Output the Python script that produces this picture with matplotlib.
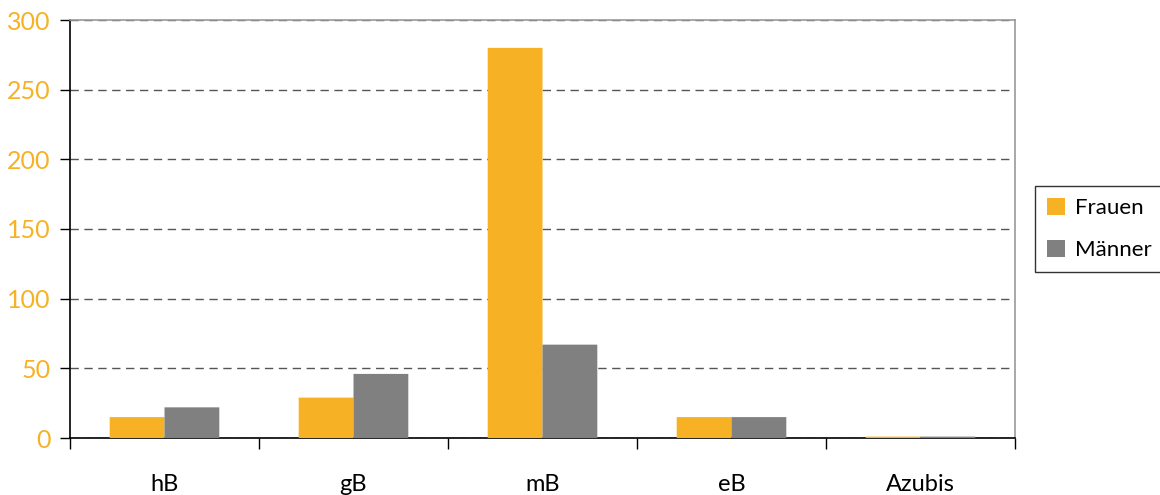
import matplotlib.pyplot as plt
import numpy as np

plt.rcParams['font.family'] = ['Lato', 'DejaVu Sans']

# Daten
kategorien = ['hB', 'gB', 'mB', 'eB', 'Azubis']
frauen = [15, 29, 280, 15, 1]
maenner = [22, 46, 67, 15, 1]

orange = '#F6B224'
grau = '#808080'

fig = plt.figure(figsize=(11.6, 4.95), dpi=100)
ax = fig.add_axes([70 / 1160, 1 - 438 / 495, 945 / 1160, 418 / 495])

x = np.arange(len(kategorien))
breite = 0.29
ax.bar(x - breite / 2, frauen, breite, color=orange, label='Frauen', zorder=3, snap=False)
ax.bar(x + breite / 2, maenner, breite, color=grau, label='Männer', zorder=3, snap=False)

ax.set_xlim(-0.5, len(kategorien) - 0.5)
ax.set_ylim(0, 300)
ax.set_yticks(range(0, 301, 50))
ax.yaxis.grid(True, linestyle=(0, (6, 4)), color='#555555', linewidth=1)
ax.set_axisbelow(True)

# Kategorien mittig, Teilstriche an den Grenzen
ax.set_xticks(x)
ax.set_xticklabels(kategorien, fontsize=17)
ax.tick_params(axis='x', length=0, pad=26)
ax.set_xticks(np.arange(-0.5, len(kategorien)), minor=True)
ax.tick_params(axis='x', which='minor', length=8, width=1, color='black', direction='out')

ax.tick_params(axis='y', length=7, width=1, color='black', labelsize=18, labelcolor=orange, pad=7)

ax.spines['left'].set_color('black')
ax.spines['bottom'].set_color('black')
ax.spines['top'].set_color('#999999')
ax.spines['right'].set_color('#999999')
for s in ax.spines.values():
    s.set_linewidth(1.2)
    s.set_zorder(2.5)

leg = ax.legend(loc='center left', bbox_to_anchor=(1.021, 0.5), borderaxespad=0, fontsize=16,
                frameon=True, fancybox=False, edgecolor='black', handlelength=0.8,
                handleheight=0.8, labelspacing=0.95, borderpad=0.55, handletextpad=0.45)
leg.get_frame().set_linewidth(1)

fig.savefig('out.png', dpi=100)
